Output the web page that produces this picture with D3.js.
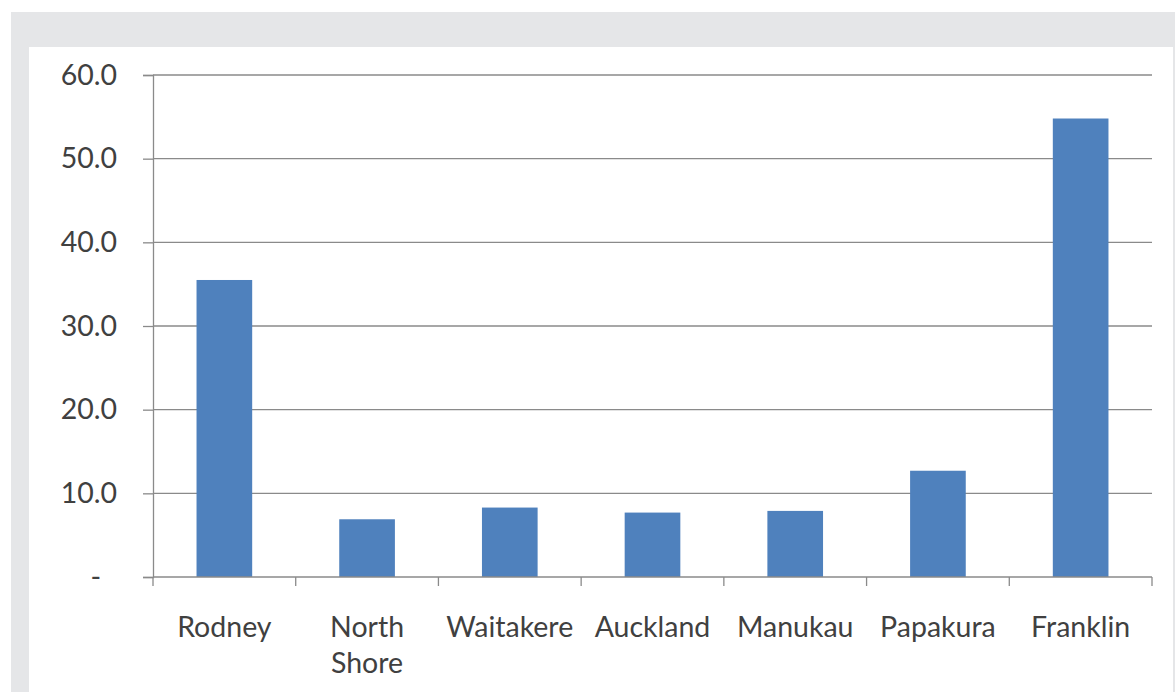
<!DOCTYPE html>
<html>
<head>
<meta charset="utf-8">
<script src="https://cdn.jsdelivr.net/npm/d3@7"></script>
<style>
  html, body { margin: 0; padding: 0; background: #fff; }
  svg { display: block; }
</style>
</head>
<body>
<div id="chart"></div>
<script>
// Bar chart — Auckland districts

const districts = ['Rodney', 'North Shore', 'Waitakere', 'Auckland', 'Manukau', 'Papakura', 'Franklin'];
const values    = [35.5, 6.9, 8.3, 7.7, 7.9, 12.7, 54.8];
const yTicks    = [0, 10, 20, 30, 40, 50, 60];

const W = 1175, H = 692;
const plot = { left: 153, right: 1152, top: 75, bottom: 577 };

const svg = d3.select('#chart').append('svg')
  .attr('width', W).attr('height', H);

// Frame: grey band with white panel
svg.append('rect')
  .attr('x', 11).attr('y', 12).attr('width', W - 11).attr('height', H - 12)
  .attr('fill', '#e5e6e8');
svg.append('rect')
  .attr('x', 29).attr('y', 47).attr('width', 1173 - 29).attr('height', H - 47)
  .attr('fill', '#fff');

// Outer padding = half the inner padding, so each category owns an equal slot
const x = d3.scaleBand().domain(districts)
  .range([plot.left, plot.right]).paddingInner(0.61).paddingOuter(0.305);
const y = d3.scaleLinear().domain([0, 60]).range([plot.bottom, plot.top]);

const font = 'Lato, "Open Sans", sans-serif';
const textColor = '#404040';
const lineColor = '#8a8a8a';

// Gridlines
svg.append('g').selectAll('line').data(yTicks.filter(d => d > 0)).join('line')
  .attr('x1', plot.left).attr('x2', plot.right)
  .attr('y1', d => y(d)).attr('y2', d => y(d))
  .attr('stroke', lineColor).attr('stroke-width', 1.3);

// Bars
svg.append('g').selectAll('rect').data(values).join('rect')
  .attr('x', (d, i) => x(districts[i]))
  .attr('y', d => y(d))
  .attr('width', x.bandwidth())
  .attr('height', d => y(0) - y(d))
  .attr('fill', '#4f81bd');

// Y axis
const yAxis = svg.append('g')
  .attr('transform', `translate(${plot.left},0)`)
  .call(d3.axisLeft(y).tickValues(yTicks).tickSize(10).tickPadding(26)
    .tickFormat(d => d === 0 ? '-' : d3.format('.1f')(d)));
yAxis.select('.domain').attr('stroke', lineColor).attr('stroke-width', 1.3);
yAxis.selectAll('.tick line').attr('stroke', lineColor).attr('stroke-width', 1.3);
yAxis.selectAll('.tick text')
  .attr('font-family', font).attr('font-size', 28.5).attr('fill', textColor);
yAxis.selectAll('.tick text').filter(d => d === 0).attr('x', -52);

// X axis (ticks at category boundaries)
const boundaries = d3.range(districts.length + 1).map(i => plot.left + i * x.step());

const xAxis = svg.append('g');
xAxis.append('line')
  .attr('x1', plot.left).attr('x2', plot.right)
  .attr('y1', plot.bottom).attr('y2', plot.bottom)
  .attr('stroke', lineColor).attr('stroke-width', 1.3);
xAxis.selectAll('line.tick').data(boundaries).join('line')
  .attr('class', 'tick')
  .attr('x1', d => d).attr('x2', d => d)
  .attr('y1', plot.bottom).attr('y2', plot.bottom + 9)
  .attr('stroke', lineColor).attr('stroke-width', 1.3);

// Category labels
const labels = svg.append('g').selectAll('text').data(districts).join('text')
  .attr('x', d => x(d) + x.bandwidth() / 2)
  .attr('y', 637)
  .attr('text-anchor', 'middle')
  .attr('font-family', font).attr('font-size', 28.5).attr('fill', textColor);
labels.each(function(d) {
  const t = d3.select(this);
  d.split(' ').forEach((w, i) => {
    t.append('tspan')
      .attr('x', x(d) + x.bandwidth() / 2)
      .attr('dy', i === 0 ? 0 : 36)
      .text(w);
  });
});
</script>
</body>
</html>
